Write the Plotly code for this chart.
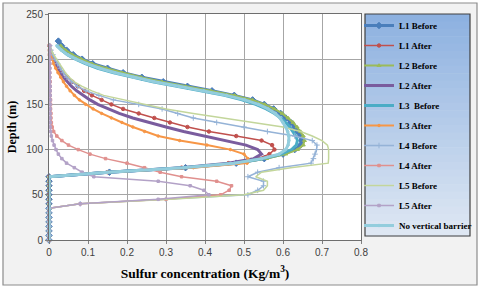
import plotly.graph_objects as go

# ---------------- data ----------------
depth = [0, 5, 10, 15, 20, 25, 30, 35, 40, 45, 50, 55, 60, 65, 70,
         75, 80, 85, 90, 95, 100, 105, 110, 115, 120,
         125, 130, 135, 140, 145, 150, 155, 160, 165, 170,
         175, 180, 185, 190, 195, 200, 205, 210, 215, 220]

l1_before = [0, 0, 0, 0, 0, 0, 0, 0, 0, 0, 0, 0, 0, 0, 0,
             0.155, 0.35, 0.48, 0.552, 0.6, 0.63, 0.645, 0.648, 0.645, 0.638,
             0.63, 0.62, 0.607, 0.594, 0.576, 0.552, 0.522, 0.475, 0.418, 0.355,
             0.293, 0.238, 0.19, 0.15, 0.112, 0.085, 0.062, 0.045, 0.032, 0.024]
l1_after = [0, 0, 0, 0, 0, 0, 0, 0, 0, 0, 0, 0, 0, 0, 0,
            0.15, 0.34, 0.46, 0.535, 0.565, 0.578, 0.572, 0.545, 0.48, 0.41,
            0.355, 0.31, 0.27, 0.23, 0.19, 0.16, 0.135, 0.11, 0.09, 0.074,
            0.06, 0.047, 0.036, 0.027, 0.019, 0.012, 0.007, 0.003, 0.001, None]
l2_before = [0, 0, 0, 0, 0, 0, 0, 0, 0, 0, 0, 0, 0, 0, 0,
             0.155, 0.35, 0.485, 0.558, 0.607, 0.637, 0.652, 0.655, 0.652, 0.645,
             0.636, 0.626, 0.613, 0.598, 0.578, 0.553, 0.522, 0.476, 0.415, 0.35,
             0.29, 0.236, 0.188, 0.147, 0.11, 0.083, 0.06, 0.043, 0.03, None]
l2_after = [0, 0, 0, 0, 0, 0, 0, 0, 0, 0, 0, 0, 0, 0, 0,
            0.15, 0.34, 0.46, 0.525, 0.545, 0.535, 0.505, 0.45, 0.395, 0.345,
            0.3, 0.255, 0.215, 0.18, 0.15, 0.125, 0.105, 0.087, 0.071, 0.058,
            0.047, 0.037, 0.029, 0.021, 0.015, 0.01, 0.006, 0.003, 0.001, None]
l3_before = [0, 0, 0, 0, 0, 0, 0, 0, 0, 0, 0, 0, 0, 0, 0,
             0.15, 0.345, 0.478, 0.548, 0.595, 0.622, 0.634, 0.637, 0.633, 0.626,
             0.617, 0.607, 0.594, 0.578, 0.557, 0.53, 0.495, 0.45, 0.392, 0.328,
             0.266, 0.212, 0.166, 0.125, 0.093, 0.068, 0.047, 0.032, 0.02, None]
l3_after = [0, 0, 0, 0, 0, 0, 0, 0, 0, 0, 0, 0, 0, 0, 0,
            0.15, 0.37, 0.508, 0.51, 0.5, 0.465, 0.405, 0.335, 0.28, 0.245,
            0.215, 0.187, 0.16, 0.135, 0.113, 0.094, 0.078, 0.065, 0.054, 0.045,
            0.037, 0.03, 0.023, 0.017, 0.012, 0.008, 0.005, 0.003, 0.001, None]
l4_before = [0, 0, 0, 0, 0, 0, 0, 0,
             0.08, 0.3, 0.51, 0.535, 0.55, 0.55, 0.51, 0.535, 0.59, 0.672,
             0.678, 0.682, 0.686, 0.687, 0.675, 0.63, 0.56, 0.5, 0.43, 0.37,
             0.33, 0.29, 0.23, 0.165, 0.128, 0.095, 0.073, 0.058, 0.046, 0.037,
             0.029, 0.022, 0.015, 0.01, 0.005, 0.002, None]
l4_after = [0, 0, 0, 0, 0, 0, 0, 0,
            0.08, 0.3, 0.44, 0.462, 0.468, 0.43, 0.34, 0.285, 0.245, 0.2,
            0.145, 0.105, 0.075, 0.05, 0.033, 0.02, 0.012, 0.008, 0.006, 0.005,
            0.005, 0.004, 0.004, 0.004, 0.003, 0.003, 0.003, 0.003, 0.002, 0.002,
            0.002, 0.002, 0.002, 0.001, 0.001, 0.001, None]
l5_before = [0, 0, 0, 0, 0, 0, 0, 0,
             0.08, 0.31, 0.5, 0.55, 0.56, 0.56, 0.53, 0.545, 0.62, 0.716,
             0.717, 0.717, 0.717, 0.714, 0.7, 0.675, 0.645, 0.6, 0.52, 0.44,
             0.37, 0.3, 0.245, 0.19, 0.14, 0.11, 0.085, 0.065, 0.052, 0.042,
             0.034, 0.026, 0.019, 0.012, 0.006, 0.002, None]
l5_after = [0, 0, 0, 0, 0, 0, 0, 0,
            0.08, 0.28, 0.41, 0.397, 0.362, 0.28, 0.115, 0.085, 0.065, 0.045,
            0.033, 0.024, 0.018, 0.013, 0.009, 0.006, 0.004, 0.003, 0.003, 0.003,
            0.003, 0.003, 0.003, 0.003, 0.003, 0.003, 0.003, 0.002, 0.002, 0.002,
            0.002, 0.002, 0.002, 0.002, 0.002, 0.002, None]
no_barrier = [0, 0, 0, 0, 0, 0, 0, 0, 0, 0, 0, 0, 0, 0, 0,
              0.15, 0.345, 0.475, 0.545, 0.59, 0.607, 0.613, 0.615, 0.615, 0.612,
              0.607, 0.6, 0.592, 0.58, 0.562, 0.537, 0.502, 0.455, 0.397, 0.333,
              0.27, 0.217, 0.17, 0.13, 0.097, 0.07, 0.048, 0.032, 0.02, None]

series_names = ["L1 Before", "L1 After", "L2 Before", "L2 After", "L3\u00a0 Before",
                "L3 After", "L4 Before", "L4 After", "L5 Before", "L5 After",
                "No vertical barrier"]
series_values = [l1_before, l1_after, l2_before, l2_after, l3_before,
                 l3_after, l4_before, l4_after, l5_before, l5_after, no_barrier]

x_ticks = [0, 0.1, 0.2, 0.3, 0.4, 0.5, 0.6, 0.7, 0.8]
y_ticks = [0, 50, 100, 150, 200, 250]

# ---------------- styles ----------------
styles = [
    dict(color="#4A7EBB", width=3, symbol="diamond", msize=5),
    dict(color="#C0504D", width=1.5, symbol="circle", msize=3.5),
    dict(color="#9BBB59", width=2, symbol="triangle-up", msize=3.5),
    dict(color="#7A5C9E", width=3, symbol=None, msize=0),
    dict(color="#4BACC6", width=3, symbol=None, msize=0),
    dict(color="#F79646", width=2, symbol="circle", msize=2.5),
    dict(color="#95B3D7", width=1.5, symbol="cross-thin", msize=4),
    dict(color="#E0908E", width=1.5, symbol="square", msize=2.5),
    dict(color="#C3D69B", width=1.5, symbol=None, msize=0),
    dict(color="#B3A2C7", width=1.5, symbol="square", msize=2.5),
    dict(color="#93CDDD", width=3, symbol="circle", msize=2.5),
]

W, H = 480, 288
ML, MR, MT, MB = 49, 119, 14, 48
PW, PH = W - ML - MR, H - MT - MB


def fx(px):
    return (px - ML) / PW


def fy(py):
    return (H - MB - py) / PH


fig = go.Figure()
for name, vals, st in zip(series_names, series_values, styles):
    mode = "lines+markers" if st["symbol"] else "lines"
    marker = dict(color=st["color"], size=st["msize"], symbol=st["symbol"] or "circle",
                  line=dict(color=st["color"], width=1))
    fig.add_trace(go.Scatter(
        x=vals, y=depth, name=name, mode=mode, legendgroup=name,
        line=dict(color=st["color"], width=st["width"]),
        marker=marker, cliponaxis=False, connectgaps=False,
    ))

shapes = []
# outer frame
shapes.append(dict(type="rect", xref="paper", yref="paper", layer="below",
                   x0=fx(3), x1=fx(477), y0=fy(285), y1=fy(3),
                   fillcolor="#f2f2f2", line=dict(color="#8c8c8c", width=1.2)))
# plot area white
shapes.append(dict(type="rect", xref="paper", yref="paper", layer="below",
                   x0=0, x1=1, y0=0, y1=1, fillcolor="white", line=dict(width=0)))
# legend gradient box
lx0, lx1, ly0, ly1 = 365, 470, 14, 236
n = 30
top = (141, 177, 224)
bot = (222, 231, 243)
for i in range(n):
    t = i / (n - 1)
    c = tuple(int(round(top[k] + (bot[k] - top[k]) * t)) for k in range(3))
    y_a = ly0 + (ly1 - ly0) * i / n
    y_b = ly0 + (ly1 - ly0) * (i + 1) / n
    shapes.append(dict(type="rect", xref="paper", yref="paper", layer="below",
                       x0=fx(lx0), x1=fx(lx1), y0=fy(y_b + 0.5), y1=fy(y_a),
                       fillcolor="rgb(%d,%d,%d)" % c, line=dict(width=0)))
shapes.append(dict(type="rect", xref="paper", yref="paper", layer="below",
                   x0=fx(lx0), x1=fx(lx1), y0=fy(ly1), y1=fy(ly0),
                   fillcolor="rgba(0,0,0,0)", line=dict(color="#404040", width=1.2)))

fig.update_layout(
    width=W, height=H,
    margin=dict(l=ML, r=MR, t=MT, b=MB, autoexpand=False),
    paper_bgcolor="white", plot_bgcolor="white",
    shapes=shapes,
    showlegend=True,
    legend=dict(x=fx(359), y=fy(11), xanchor="left", yanchor="top",
                bgcolor="rgba(0,0,0,0)", borderwidth=0, maxheight=400,
                font=dict(family="Liberation Serif", size=9, color="#000000", weight="bold"),
                tracegroupgap=1, itemwidth=30),
    xaxis=dict(range=[0, 0.8], tickvals=x_ticks, ticktext=[str(v) for v in x_ticks],
               showgrid=True, gridcolor="#a6a6a6", gridwidth=1,
               showline=True, linecolor="#6e6e6e", linewidth=1, mirror=True,
               ticks="outside", ticklen=3, tickcolor="#808080", zeroline=False,
               automargin=False,
               tickfont=dict(family="Liberation Sans", size=10, color="#404040"),
               title=dict(text="<b>Sulfur concentration (Kg/m<sup>3</sup>)</b>",
                          font=dict(family="Liberation Serif", size=13.5, color="#000000"),
                          standoff=11)),
    yaxis=dict(range=[0, 250], tickvals=y_ticks,
               showgrid=True, gridcolor="#a6a6a6", gridwidth=1,
               showline=True, linecolor="#6e6e6e", linewidth=1, mirror=True,
               ticks="outside", ticklen=3, tickcolor="#808080", zeroline=False,
               automargin=False,
               tickfont=dict(family="Liberation Sans", size=10, color="#404040"),
               title=dict(text="<b>Depth (m)</b>",
                          font=dict(family="Liberation Serif", size=12, color="#000000"),
                          standoff=7)),
)

fig.write_html("out.html", config={"displayModeBar": False},
               post_script="document.body.style.margin='0';document.body.style.padding='0';")
